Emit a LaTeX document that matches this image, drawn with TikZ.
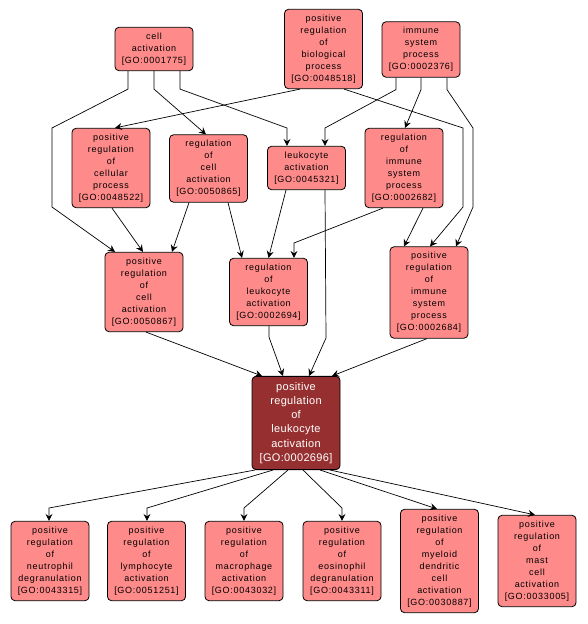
\documentclass[tikz,border=0pt]{standalone}
\usepackage{fontspec}
\usepackage{xcolor}
\usepackage{tikz}
\usetikzlibrary{arrows.meta}

\newfontfamily\termfont[LetterSpace=8]{Liberation Sans}
\newfontfamily\focusfont[LetterSpace=3]{Liberation Sans}
\definecolor{termfill}{HTML}{FF8A8A}
\definecolor{focusfill}{HTML}{963030}

\begin{document}
\begin{tikzpicture}[
  x=1pt, y=-1pt,
  >={Stealth[length=7pt,width=7pt,inset=2.5pt]},
  term/.style={draw, line width=0.8pt, rounded corners=4pt, fill=termfill, align=center,
    font={\termfont\fontsize{9}{12}\selectfont}, minimum width=78pt, inner xsep=2pt, inner ysep=5.5pt},
  focus/.style={term, fill=focusfill, text=white, minimum width=88pt, inner ysep=6pt,
    font={\focusfont\fontsize{11}{14.2}\selectfont}},
  isa/.style={->, line width=0.7pt}
]
\useasboundingbox (0,0) rectangle (587,624);

% top row
\node[term] (ca)   at (154,49)   {cell\\activation\\{[}GO:0001775{]}};
\node[term] (prbp) at (323.5,49) {positive\\regulation\\of\\biological\\process\\{[}GO:0048518{]}};
\node[term] (isp)  at (421,49.5) {immune\\system\\process\\{[}GO:0002376{]}};

% second row
\node[term] (prcp) at (111,168)   {positive\\regulation\\of\\cellular\\process\\{[}GO:0048522{]}};
\node[term] (rca)  at (208.5,168.5) {regulation\\of\\cell\\activation\\{[}GO:0050865{]}};
\node[term] (la)   at (306.5,168) {leukocyte\\activation\\{[}GO:0045321{]}};
\node[term] (risp) at (404,168)   {regulation\\of\\immune\\system\\process\\{[}GO:0002682{]}};

% third row
\node[term] (prca)  at (144,292)   {positive\\regulation\\of\\cell\\activation\\{[}GO:0050867{]}};
\node[term] (rla)   at (268.5,292) {regulation\\of\\leukocyte\\activation\\{[}GO:0002694{]}};
\node[term] (prisp) at (429,292.5) {positive\\regulation\\of\\immune\\system\\process\\{[}GO:0002684{]}};

% focus term
\node[focus] (prla) at (296,423) {positive\\regulation\\of\\leukocyte\\activation\\{[}GO:0002696{]}};

% bottom row
\node[term] (neu)  at (50,561)    {positive\\regulation\\of\\neutrophil\\degranulation\\{[}GO:0043315{]}};
\node[term] (lym)  at (146.5,561) {positive\\regulation\\of\\lymphocyte\\activation\\{[}GO:0051251{]}};
\node[term] (mac)  at (244,561)   {positive\\regulation\\of\\macrophage\\activation\\{[}GO:0043032{]}};
\node[term] (eos)  at (342,561)   {positive\\regulation\\of\\eosinophil\\degranulation\\{[}GO:0043311{]}};
\node[term] (mdc)  at (439.5,561) {positive\\regulation\\of\\myeloid\\dendritic\\cell\\activation\\{[}GO:0030887{]}};
\node[term] (mast) at (537,561)   {positive\\regulation\\of\\mast\\cell\\activation\\{[}GO:0033005{]}};

% edges from the top row
\draw[isa] ([xshift=-26]ca.south) -- ++(0,18) -- (52,128) -- (52,207) -- ([xshift=-29]prca.north);
\draw[isa] (ca.south) -- ++(0,18) -- ([xshift=-2.5]rca.north);
\draw[isa] ([xshift=26]ca.south) -- ++(0,18) -- (287,128) -- ([xshift=-19.5]la.north);
\draw[isa] ([xshift=-23.5]prbp.south) -- ([xshift=4]prcp.north);
\draw[isa] ([xshift=20.5]prbp.south) -- (463,128) -- (463,207) -- ([xshift=1]prisp.north);
\draw[isa] ([xshift=26]isp.south) -- ++(0,12) -- (473,128) -- (473,207) -- ([xshift=27]prisp.north);
\draw[isa] (isp.south) -- ++(0,12) -- ([xshift=1]risp.north);
\draw[isa] ([xshift=-25]isp.south) -- ++(0,12) -- (325,128) -- ([xshift=18.5]la.north);

% edges from the second row
\draw[isa] ([xshift=1]prcp.south) -- ([xshift=-1]prca.north);
\draw[isa] ([xshift=-19.5]rca.south) -- ([xshift=28]prca.north);
\draw[isa] ([xshift=19.5]rca.south) -- ([xshift=-26.5]rla.north);
\draw[isa] ([xshift=-20.5]la.south) -- (rla.north);
\draw[isa] ([xshift=-21]risp.south) -- (294,243) -- ([xshift=25.5]rla.north);
\draw[isa] ([xshift=19]risp.south) -- ([xshift=-25]prisp.north);

% edges into the focus term
\draw[isa] ([xshift=18.5]la.south) -- (326,338) -- ([xshift=13]prla.north);
\draw[isa] ([xshift=2]prca.south) -- ([xshift=-34]prla.north);
\draw[isa] ([xshift=0.5]rla.south) -- ++(0,11) -- ([xshift=-13]prla.north);
\draw[isa] ([xshift=-2]prisp.south) -- ([xshift=36]prla.north);

% edges to the bottom row
\draw[isa] ([xshift=-41]prla.south) -- (49,508) -- ([xshift=-1]neu.north);
\draw[isa] ([xshift=-23]prla.south) -- (147,508) -- ([xshift=0.5]lym.north);
\draw[isa] ([xshift=-8]prla.south) -- (244,508) -- (mac.north);
\draw[isa] ([xshift=7]prla.south) -- (342,508) -- (eos.north);
\draw[isa] ([xshift=24]prla.south) -- ([xshift=-2.5]mdc.north);
\draw[isa] ([xshift=34]prla.south) -- ([xshift=-2]mast.north);
\end{tikzpicture}
\end{document}
